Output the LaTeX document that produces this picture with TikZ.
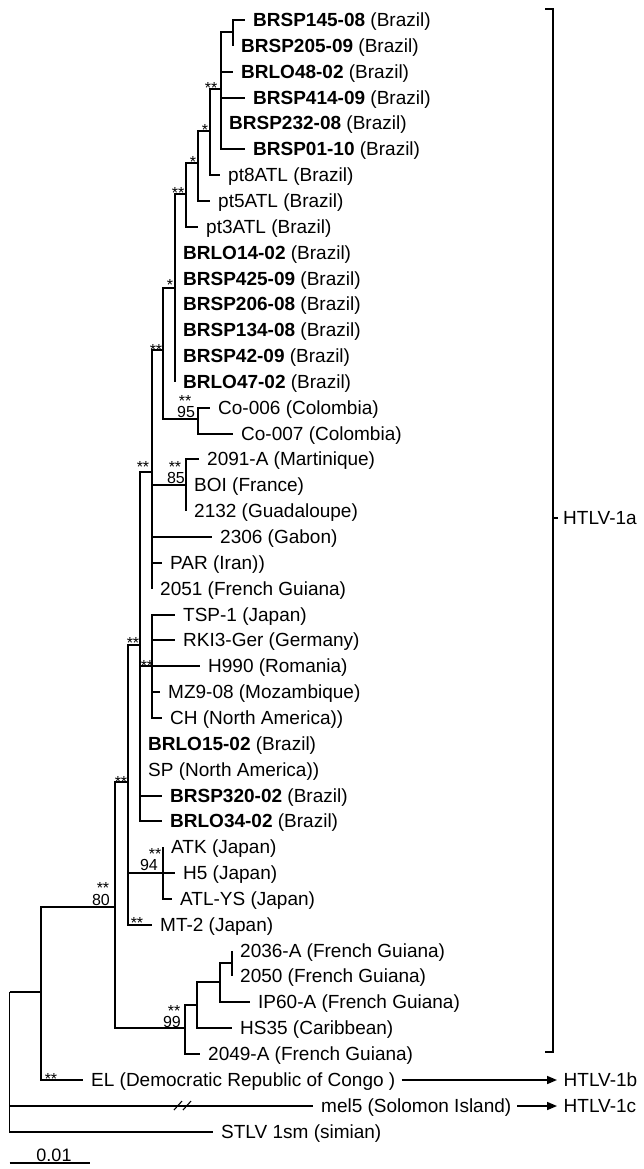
\documentclass[tikz,border=0pt]{standalone}
\usepackage{fontspec}
\setmainfont{Liberation Sans}
\usetikzlibrary{arrows.meta}
\newcommand\leafnode[4]{\coordinate (#1) at (#2,#3); \node[lf] (l#1) at ([xshift=8pt]#1) {#4};}
\begin{document}
\begin{tikzpicture}[x=1pt,y=-1pt,
  br/.style={line width=1.6pt},
  lf/.style={anchor=west,inner sep=0pt,text height=13.6pt,text depth=0pt,font=\fontsize{19}{22}\selectfont},
  bs/.style={anchor=base,inner sep=0pt,font=\fontsize{16}{18}\selectfont},
  arr/.style={line width=1.6pt,-{Triangle[length=10pt,width=8pt]}},
]
\useasboundingbox (0,0) rectangle (644,1169);
% internal nodes
\coordinate (A) at (233,32);
\coordinate (B) at (221,89);
\coordinate (C) at (210,131);
\coordinate (D) at (198,163);
\coordinate (E) at (186,194);
\coordinate (F) at (175,288);
\coordinate (Co) at (198,419);
\coordinate (G) at (163,350);
\coordinate (c85) at (186,485);
\coordinate (H) at (152,472);
\coordinate (J) at (152,666);
\coordinate (K) at (140,645);
\coordinate (ATKc) at (163,873);
\coordinate (L) at (128,782);
\coordinate (Q) at (232,963);
\coordinate (P) at (220,982);
\coordinate (O) at (197,1005);
\coordinate (N) at (185,1028);
\coordinate (M) at (115,907);
\coordinate (R) at (41,992);
\coordinate (root) at (9.5,992);
% leaves
\leafnode{t1}{245}{20}{\textbf{BRSP145-08} (Brazil)}
\leafnode{t2}{233}{46}{\textbf{BRSP205-09} (Brazil)}
\leafnode{t3}{233}{72}{\textbf{BRLO48-02} (Brazil)}
\leafnode{t4}{245}{98}{\textbf{BRSP414-09} (Brazil)}
\leafnode{t5}{221}{123}{\textbf{BRSP232-08} (Brazil)}
\leafnode{t6}{245}{149}{\textbf{BRSP01-10} (Brazil)}
\leafnode{t7}{220}{175}{pt8ATL (Brazil)}
\leafnode{t8}{210}{201}{pt5ATL (Brazil)}
\leafnode{t9}{198}{227}{pt3ATL (Brazil)}
\leafnode{t10}{175}{253}{\textbf{BRLO14-02} (Brazil)}
\leafnode{t11}{175}{279}{\textbf{BRSP425-09} (Brazil)}
\leafnode{t12}{175}{304}{\textbf{BRSP206-08} (Brazil)}
\leafnode{t13}{175}{330}{\textbf{BRSP134-08} (Brazil)}
\leafnode{t14}{175}{356}{\textbf{BRSP42-09} (Brazil)}
\leafnode{t15}{175}{382}{\textbf{BRLO47-02} (Brazil)}
\leafnode{t16}{210}{408}{Co-006 (Colombia)}
\leafnode{t17}{233}{434}{Co-007 (Colombia)}
\leafnode{t18}{199}{459}{2091-A (Martinique)}
\leafnode{t19}{186}{485}{BOI (France)}
\leafnode{t20}{186}{511}{2132 (Guadaloupe)}
\leafnode{t21}{212}{537}{2306 (Gabon)}
\leafnode{t22}{162}{563}{PAR (Iran))}
\leafnode{t23}{152}{589}{2051 (French Guiana)}
\leafnode{t24}{175}{615}{TSP-1 (Japan)}
\leafnode{t25}{175}{640}{RKI3-Ger (Germany)}
\leafnode{t26}{200}{666}{H990 (Romania)}
\leafnode{t27}{160}{692}{MZ9-08 (Mozambique)}
\leafnode{t28}{162}{718}{CH (North America))}
\leafnode{t29}{140}{744}{\textbf{BRLO15-02} (Brazil)}
\leafnode{t30}{140}{770}{SP (North America))}
\leafnode{t31}{162}{796}{\textbf{BRSP320-02} (Brazil)}
\leafnode{t32}{162}{821}{\textbf{BRLO34-02} (Brazil)}
\leafnode{t33}{163}{847}{ATK (Japan)}
\leafnode{t34}{175}{873}{H5 (Japan)}
\leafnode{t35}{172}{899}{ATL-YS (Japan)}
\leafnode{t36}{152}{925}{MT-2 (Japan)}
\leafnode{t37}{232}{951}{2036-A (French Guiana)}
\leafnode{t38}{232}{976}{2050 (French Guiana)}
\leafnode{t39}{250}{1002}{IP60-A (French Guiana)}
\leafnode{t40}{232}{1028}{HS35 (Caribbean)}
\leafnode{t41}{200}{1054}{2049-A (French Guiana)}
\leafnode{t42}{83}{1080}{EL (Democratic Republic of Congo )}
\leafnode{t43}{313}{1106}{mel5 (Solomon Island)}
\leafnode{t44}{213}{1132}{STLV 1sm (simian)}
% branches
\draw[br] (A) |- (t1) (A) |- (t2);
\draw[br] (B) |- (A) (B) |- (t3) (B) |- (t4) (B) |- (t5) (B) |- (t6);
\draw[br] (C) |- (B) (C) |- (t7);
\draw[br] (D) |- (C) (D) |- (t8);
\draw[br] (E) |- (D) (E) |- (t9);
\draw[br] (F) |- (E) (F) |- (t10) (F) |- (t15);
\draw[br] (Co) |- (t16) (Co) |- (t17);
\draw[br] (G) |- (F) (G) |- (Co);
\draw[br] (c85) |- (t18) (c85) |- (t20);
\draw[br] (H) |- (G) (H) |- (c85) (H) |- (t21) (H) |- (t22) (H) |- (t23);
\draw[br] (J) |- (t24) (J) |- (t25) (J) |- (t26) (J) |- (t27) (J) |- (t28);
\draw[br] (K) |- (H) (K) |- (J) (K) |- (t29) (K) |- (t30) (K) |- (t31) (K) |- (t32);
\draw[br] (ATKc) |- (t33) (ATKc) |- (t34) (ATKc) |- (t35);
\draw[br] (L) |- (K) (L) |- (ATKc) (L) |- (t36);
\draw[br] (Q) |- (t37) (Q) |- (t38);
\draw[br] (P) |- (Q) (P) |- (t39);
\draw[br] (O) |- (P) (O) |- (t40);
\draw[br] (N) |- (O) (N) |- (t41);
\draw[br] (M) |- (L) (M) |- (N);
\draw[br] (R) |- (M) (R) |- (t42);
\draw[br] (root) |- (R) (root) |- (t43) (root) |- (t44);
% break marks on mel5 branch
\draw[line width=1.1pt] (174,1110) -- (182,1101) (183,1110) -- (191,1101);
% bootstrap support
\node[bs] (sB) at (211,93.4) {**};
\node[bs] (sC) at (205,135.4) {*};
\node[bs] (sD) at (193,167.4) {*};
\node[bs] (sE) at (178,198.4) {**};
\node[bs] (sF) at (170,290.4) {*};
\node[bs] (sG) at (156,355.4) {**};
\node[bs] (sCo) at (185,406.4) {**};
\node[bs] (nCo) at (186,417.2) {95};
\node[bs] (sH) at (143,472.4) {**};
\node[bs] (s85) at (175,472.4) {**};
\node[bs] (n85) at (176,483.2) {85};
\node[bs] (sK) at (133,648.4) {**};
\node[bs] (sJ) at (147,671.4) {**};
\node[bs] (sL) at (121,787.4) {**};
\node[bs] (sATK) at (155,859.4) {**};
\node[bs] (nATK) at (149,870.2) {94};
\node[bs] (sMT) at (137,928.4) {**};
\node[bs] (sM) at (103,893.4) {**};
\node[bs] (nM) at (101,905.2) {80};
\node[bs] (sN) at (174,1016.4) {**};
\node[bs] (nN) at (172,1027.2) {99};
\node[bs] (sEL) at (51,1084.4) {**};
% clade bracket and labels
\coordinate (bt) at (553,9);
\coordinate (bb) at (553,1052);
\draw[br] ([xshift=-8pt]bt) -- (bt) -- (bb) -- ([xshift=-8pt]bb);
\node[lf] (ha) at (563,518) {HTLV-1a};
\draw[br] (553,518) -- ([xshift=-5pt]ha.west);
\node[lf] (hb) at (563.5,1080) {HTLV-1b};
\node[lf] (hc) at (563.5,1106) {HTLV-1c};
\draw[arr] ([xshift=6pt]lt42.east) -- ([xshift=-6.5pt]hb.west);
\draw[arr] ([xshift=6pt]lt43.east) -- ([xshift=-6.5pt]hc.west);
% scale bar
\coordinate (s0) at (9.5,1163);
\coordinate (s1) at (90,1163);
\draw[br] (s0) -- (s1);
\node[anchor=base,inner sep=0pt,font=\fontsize{18}{20}\selectfont] (sc) at (54,1161) {0.01};
\end{tikzpicture}
\end{document}
